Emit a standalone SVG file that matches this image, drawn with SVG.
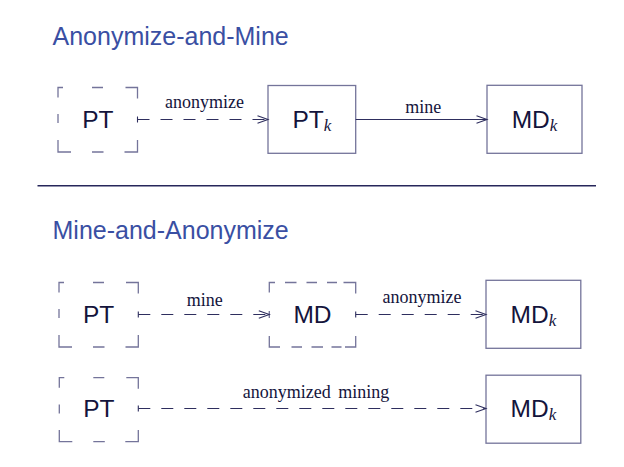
<svg xmlns="http://www.w3.org/2000/svg" width="624" height="467" viewBox="0 0 624 467">
<style>
  .title { font-family: "Liberation Sans", Arial, sans-serif; font-size: 25px; fill: #3a4fa3; }
  .node { font-family: "Liberation Sans", Arial, sans-serif; font-size: 24.5px; fill: #14143c; text-anchor: middle; }
  .sub { font-family: "Liberation Serif", "Times New Roman", serif; font-style: italic; font-size: 17px; }
  .lbl { font-family: "Liberation Serif", "Times New Roman", serif; font-size: 18px; fill: #14143c; text-anchor: middle; }
  .box { fill: none; stroke: #74749a; stroke-width: 1.3; }
  .dbox { fill: none; stroke: #74749a; stroke-width: 1.3; stroke-linecap: butt; }
  .conn { fill: none; stroke: #2e2e5e; stroke-width: 1.1; }
  .dash { stroke-dasharray: 12 11; }
</style>
<defs>
  <marker id="head" markerUnits="userSpaceOnUse" markerWidth="12" markerHeight="9" refX="10.5" refY="4" orient="auto" overflow="visible">
    <path d="M0,0.2 L10.5,4 L0,7.8" fill="none" stroke="#2e2e5e" stroke-width="1.1"/>
  </marker>
  <marker id="tail" markerUnits="userSpaceOnUse" markerWidth="4" markerHeight="8" refX="0" refY="3" orient="auto" overflow="visible">
    <path d="M0,0 V6" fill="none" stroke="#2e2e5e" stroke-width="1.1"/>
  </marker>
</defs>

<text class="title" x="52.5" y="45">Anonymize-and-Mine</text>
<line x1="37.5" y1="185.7" x2="596" y2="185.7" stroke="#26265a" stroke-width="1.5"/>
<text class="title" x="52.5" y="238.5">Mine-and-Anonymize</text>

<!-- Row 1 -->
<g id="pt1">
  <path class="dbox" d="M58,97.5 V87.5 H63 M92,87.5 H103 M125.5,87.5 H137.5 V98.5 M58,114 V123 M58,140 V152 H71 M92,152 H103.5 M124.5,152 H137.5 V140"/>
  <text class="node" x="97.8" y="128">PT</text>
</g>
<g id="ptk1">
  <rect class="box" x="268" y="85.5" width="87.7" height="67.8"/>
  <text class="node" x="311.9" y="128">PT<tspan class="sub" dy="3">k</tspan></text>
</g>
<g id="mdk1">
  <rect class="box" x="487" y="85.3" width="95" height="68"/>
  <text class="node" x="534.5" y="128">MD<tspan class="sub" dy="3">k</tspan></text>
</g>

<!-- Row 2 -->
<g id="pt2">
  <path class="dbox" d="M59,292.5 V282.5 H64 M93,282.5 H104 M126,282.5 H138.3 V293.5 M59,309 V318 M59,335 V347 H72 M93,347 H104.5 M125.5,347 H138.3 V335"/>
  <text class="node" x="98.6" y="323">PT</text>
</g>
<g id="md2">
  <path class="dbox" d="M269.3,292.5 V282.5 H275 M285,282.5 H296.5 M306.5,282.5 H317 M327,282.5 H337 M343.5,282.5 H355.7 V293.5 M269.3,311 V318 M269.3,336 V347 H280 M291.5,347 H302 M311.5,347 H323 M331.5,347 H341.5 M345,347 H355.7 V336"/>
  <text class="node" x="312.5" y="323">MD</text>
</g>
<g id="mdk2">
  <rect class="box" x="486" y="280.3" width="94.8" height="68"/>
  <text class="node" x="533.4" y="323">MD<tspan class="sub" dy="3">k</tspan></text>
</g>

<!-- Row 3 -->
<g id="pt3">
  <path class="dbox" d="M59.3,387.7 V377.7 H64.3 M93.3,377.7 H104.3 M126.3,377.7 H138.3 V388.7 M59.3,404.5 V413.5 M59.3,430 V441.7 H72.3 M93.3,441.7 H104.8 M125.3,441.7 H138.3 V430"/>
  <text class="node" x="98.8" y="417">PT</text>
</g>
<g id="mdk3">
  <rect class="box" x="486" y="375.2" width="94.8" height="68"/>
  <text class="node" x="533.4" y="417">MD<tspan class="sub" dy="3">k</tspan></text>
</g>

<!-- Connectors -->
<g id="connectors">
  <line class="conn dash" x1="137.5" y1="119.5" x2="268" y2="119.5" marker-start="url(#tail)" marker-end="url(#head)"/>
  <line class="conn" x1="355.7" y1="119.5" x2="487" y2="119.5" marker-end="url(#head)"/>
  <line class="conn dash" x1="138.3" y1="314.5" x2="269.3" y2="314.5" marker-start="url(#tail)" marker-end="url(#head)"/>
  <line class="conn dash" x1="355.7" y1="314.5" x2="486" y2="314.5" marker-start="url(#tail)" marker-end="url(#head)"/>
  <line class="conn dash" x1="138.3" y1="408.5" x2="486" y2="408.5" marker-start="url(#tail)" marker-end="url(#head)"/>
  <text class="lbl" x="204.5" y="108">anonymize</text>
  <text class="lbl" x="423.3" y="112.5">mine</text>
  <text class="lbl" x="204.7" y="306">mine</text>
  <text class="lbl" x="422" y="303.3">anonymize</text>
  <text class="lbl" x="316" y="397.5" word-spacing="3">anonymized mining</text>
</g>
</svg>
